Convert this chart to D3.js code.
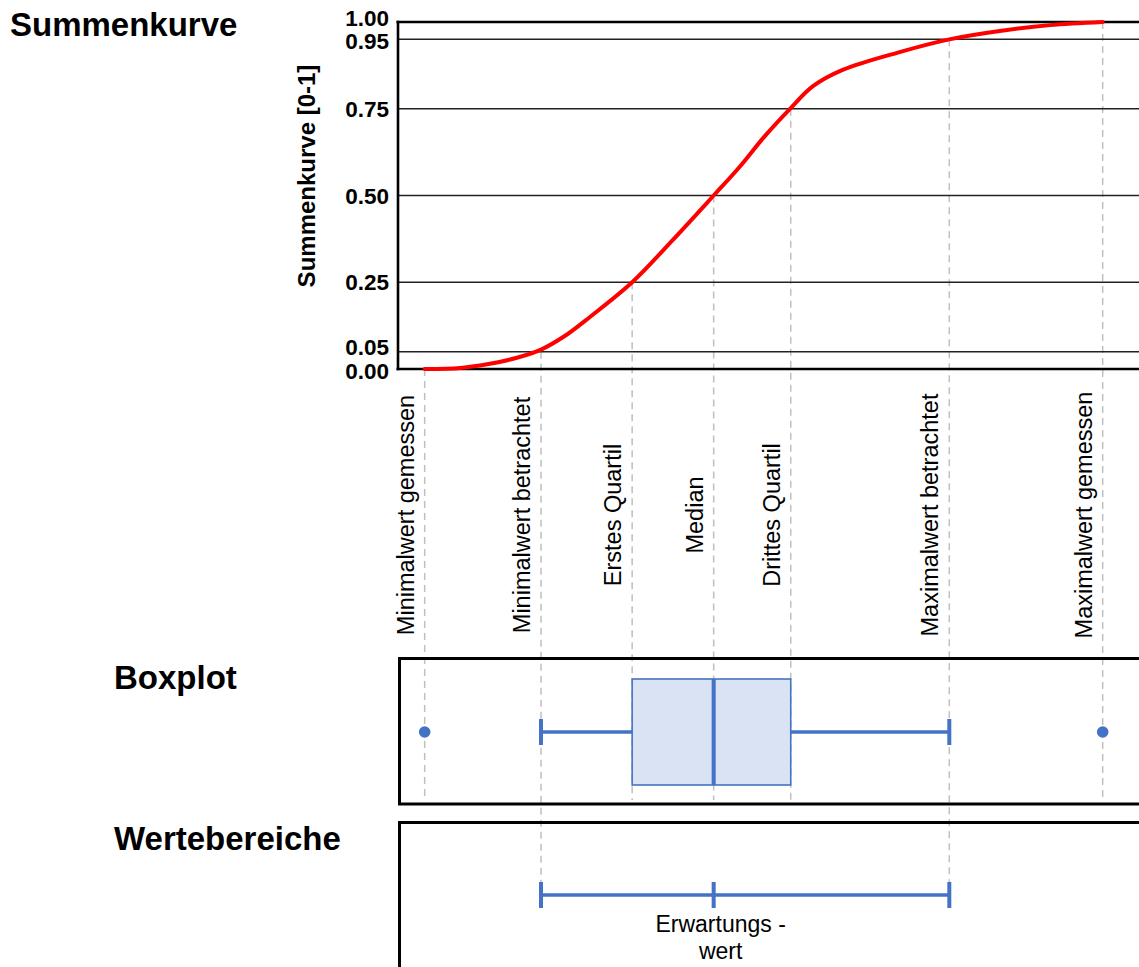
<!DOCTYPE html>
<html><head><meta charset="utf-8">
<script src="https://cdn.jsdelivr.net/npm/d3@7"></script>
<style>html,body{margin:0;padding:0;background:#fff;overflow:hidden}svg{display:block;font-family:"Liberation Sans",Arial,sans-serif}</style>
</head><body>
<svg id="chart" width="1139" height="967"></svg>
<script>
// ---- data ----
const markerLabels = ["Minimalwert gemessen", "Minimalwert betrachtet", "Erstes Quartil", "Median", "Drittes Quartil", "Maximalwert betrachtet", "Maximalwert gemessen"];
const markerValues = [3.6, 19.3, 31.6, 42.6, 53.0, 74.4, 95.1];
const markerCdf = [0, 0.05, 0.25, 0.5, 0.75, 0.95, 1.0];
const markerPanel = ["box", "range", "box", "box", "box", "range", "box"];
const curveX = [3.6, 8.4, 12.4, 15.8, 19.3, 22.5, 25.9, 31.6, 37.0, 42.6, 46.0, 49.5, 53.0, 56.0, 60.0, 67.8, 74.4, 81.2, 88.0, 95.1];
const curveY = [0, 0.003, 0.015, 0.031, 0.056, 0.095, 0.15, 0.25, 0.37, 0.5, 0.58, 0.671, 0.752, 0.815, 0.862, 0.914, 0.95, 0.974, 0.991, 1.0];
const yTicks = [0, 0.05, 0.25, 0.5, 0.75, 0.95, 1.0];
const yTickLabels = ["0.00", "0.05", "0.25", "0.50", "0.75", "0.95", "1.00"];
const boxStats = {outlierLow: 3.6, whiskerLow: 19.3, q1: 31.6, median: 42.6, q3: 53.0, whiskerHigh: 74.4, outlierHigh: 95.1};
const rangeStats = {low: 19.3, expected: 42.6, high: 74.4};
const panelTitles = ["Summenkurve", "Boxplot", "Wertebereiche"];
const yAxisTitle = "Summenkurve [0-1]";
const expectedLabel = ["Erwartungs -", "wert"];

// ---- layout ----
const svg = d3.select("#chart");
const x = d3.scaleLinear().domain([0, 100]).range([398, 1139]);
const y = d3.scaleLinear().domain([0, 1]).range([369, 22]);
const blue = "#4472c4";
const box = {top: 657, bottom: 804, mid: 732};
const rng = {top: 821, bottom: 990, mid: 895};

// dashed guide lines
svg.append("g").selectAll("line").data(markerValues).join("line")
  .attr("x1", d => x(d)).attr("x2", d => x(d))
  .attr("y1", (d, i) => y(markerCdf[i]))
  .attr("y2", (d, i) => markerPanel[i] === "range" ? rng.mid - 13 : box.bottom - 4)
  .attr("stroke", "#bfbfbf").attr("stroke-width", 1.5).attr("stroke-dasharray", "7,5");

// grid lines
svg.append("g").selectAll("line").data(yTicks.filter(t => t > 0 && t < 1)).join("line")
  .attr("x1", x(0)).attr("x2", x(100)).attr("y1", d => y(d)).attr("y2", d => y(d))
  .attr("stroke", "#222").attr("stroke-width", 1.5);
// frame lines (0 and 1, left axis)
svg.append("g").selectAll("line").data([0, 1]).join("line")
  .attr("x1", x(0) - 1.5).attr("x2", x(100)).attr("y1", d => y(d)).attr("y2", d => y(d))
  .attr("stroke", "#000").attr("stroke-width", 2.6);
svg.append("line").attr("x1", x(0)).attr("x2", x(0)).attr("y1", y(1) - 1.3).attr("y2", y(0) + 1.3)
  .attr("stroke", "#000").attr("stroke-width", 2.6);

// y tick labels (nudge close neighbours apart)
const nudge = yTicks.map((t, i) => {
  if (i + 1 < yTicks.length && yTicks[i + 1] - t < 0.06) return 1.5;
  if (i > 0 && t - yTicks[i - 1] < 0.06) return -4.5;
  return 0;
});
svg.append("g").selectAll("text").data(yTicks).join("text")
  .attr("x", 389).attr("y", (d, i) => y(d) + nudge[i]).attr("dy", "0.36em")
  .attr("text-anchor", "end").attr("font-size", 22.5).attr("font-weight", "bold")
  .text((d, i) => yTickLabels[i]);

// y axis title
svg.append("text").attr("transform", `translate(315,176) rotate(-90)`)
  .attr("text-anchor", "middle").attr("font-size", 24).attr("font-weight", "bold").text(yAxisTitle);

// curve
const pts = curveX.map((v, i) => [v, curveY[i]]);
svg.append("path").datum(pts)
  .attr("d", d3.line().x(d => x(d[0])).y(d => y(d[1])).curve(d3.curveCatmullRom.alpha(0.5)))
  .attr("fill", "none").attr("stroke", "#ff0000").attr("stroke-width", 4).attr("stroke-linecap", "round");

// marker labels
svg.append("g").selectAll("text").data(markerLabels).join("text")
  .attr("transform", (d, i) => `translate(${x(markerValues[i]) - 11},515) rotate(-90)`)
  .attr("text-anchor", "middle").attr("font-size", 23.5).attr("fill", "#000").text(d => d);

// panel titles
svg.append("text").attr("x", 10).attr("y", 36).attr("font-size", 33).attr("font-weight", "bold").text(panelTitles[0]);
svg.append("text").attr("x", 114).attr("y", 689).attr("font-size", 33).attr("font-weight", "bold").text(panelTitles[1]);
svg.append("text").attr("x", 114).attr("y", 850).attr("font-size", 33).attr("font-weight", "bold").text(panelTitles[2]);

// boxplot panel
svg.append("rect").attr("x", x(0) + 1.5).attr("y", box.top + 1.5).attr("width", 800).attr("height", box.bottom - box.top - 1.5)
  .attr("fill", "none").attr("stroke", "#000").attr("stroke-width", 3);
const bw = svg.append("g");
bw.append("line").attr("x1", x(boxStats.whiskerLow)).attr("x2", x(boxStats.q1)).attr("y1", box.mid).attr("y2", box.mid)
  .attr("stroke", blue).attr("stroke-width", 3.5);
bw.append("line").attr("x1", x(boxStats.q3)).attr("x2", x(boxStats.whiskerHigh)).attr("y1", box.mid).attr("y2", box.mid)
  .attr("stroke", blue).attr("stroke-width", 3.5);
[boxStats.whiskerLow, boxStats.whiskerHigh].forEach(v => {
  bw.append("line").attr("x1", x(v)).attr("x2", x(v)).attr("y1", box.mid - 13).attr("y2", box.mid + 13)
    .attr("stroke", blue).attr("stroke-width", 4);
});
bw.append("rect").attr("x", x(boxStats.q1)).attr("y", 679).attr("width", x(boxStats.q3) - x(boxStats.q1)).attr("height", 106)
  .attr("fill", "#dae3f3").attr("stroke", blue).attr("stroke-width", 1.6);
bw.append("line").attr("x1", x(boxStats.median)).attr("x2", x(boxStats.median)).attr("y1", 679).attr("y2", 785)
  .attr("stroke", blue).attr("stroke-width", 4);
bw.selectAll("circle").data([boxStats.outlierLow, boxStats.outlierHigh]).join("circle")
  .attr("cx", d => x(d)).attr("cy", box.mid).attr("r", 5.8).attr("fill", blue);

// range panel
svg.append("rect").attr("x", x(0) + 1.5).attr("y", rng.top + 1.5).attr("width", 800).attr("height", rng.bottom - rng.top)
  .attr("fill", "none").attr("stroke", "#000").attr("stroke-width", 3);
svg.append("line").attr("x1", x(rangeStats.low)).attr("x2", x(rangeStats.high)).attr("y1", rng.mid).attr("y2", rng.mid)
  .attr("stroke", blue).attr("stroke-width", 3.5);
svg.append("g").selectAll("line").data([rangeStats.low, rangeStats.expected, rangeStats.high]).join("line")
  .attr("x1", d => x(d)).attr("x2", d => x(d)).attr("y1", rng.mid - 13).attr("y2", rng.mid + 13)
  .attr("stroke", blue).attr("stroke-width", 4);
svg.append("g").selectAll("text").data(expectedLabel).join("text")
  .attr("x", x(rangeStats.expected) + 7).attr("y", (d, i) => 932 + i * 27)
  .attr("text-anchor", "middle").attr("font-size", 23).text(d => d);
</script>
</body></html>
